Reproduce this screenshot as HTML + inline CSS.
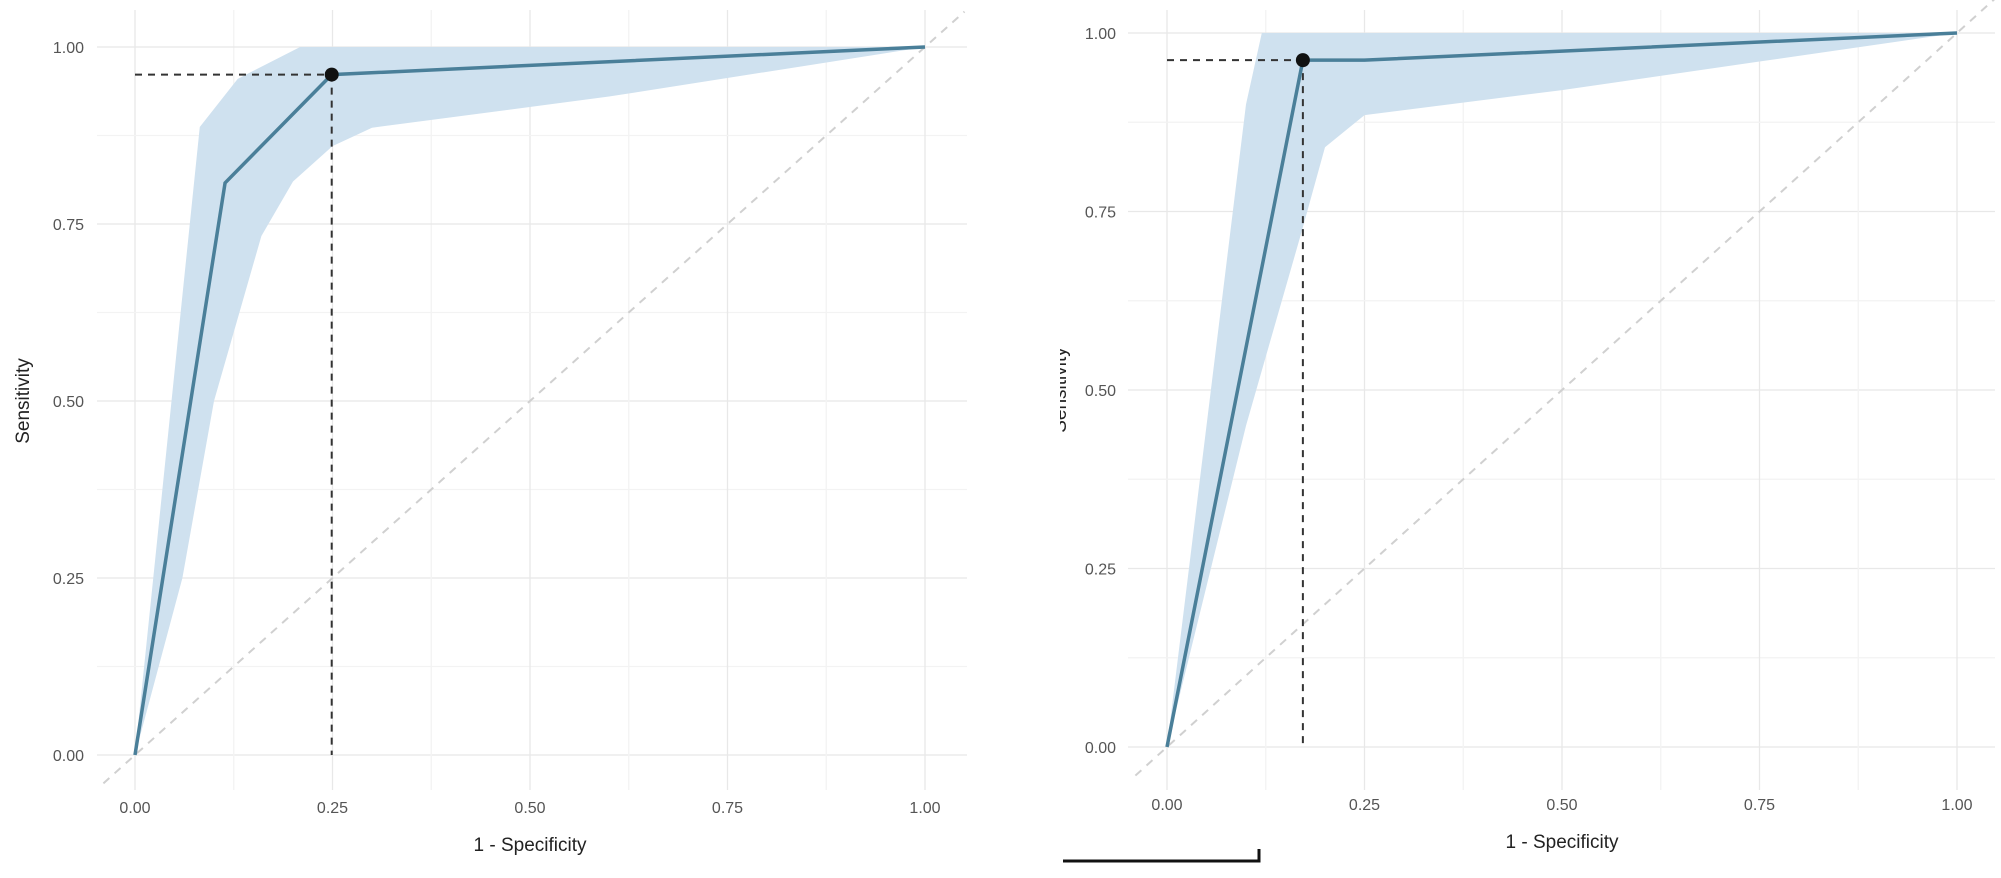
<!DOCTYPE html>
<html><head><meta charset="utf-8"><style>
body{margin:0;background:#fff}
svg{display:block;font-family:"Liberation Sans",sans-serif}
</style></head><body>
<svg id="s" width="2001" height="878"></svg>
<script>
// Left panel data
const leftRocX=[0,0.114,0.249,1];
const leftRocY=[0,0.808,0.961,1];
const leftUpX=[0,0.082,0.13,0.209,1];
const leftUpY=[0,0.887,0.955,1,1];
const leftLoX=[0,0.06,0.1,0.16,0.2,0.25,0.3,0.6,1];
const leftLoY=[0,0.25,0.5,0.733,0.81,0.86,0.886,0.93,1];
const leftCut=[0.249,0.961];
// Right panel data
const rightRocX=[0,0.172,0.25,1];
const rightRocY=[0,0.962,0.962,1];
const rightUpX=[0,0.1,0.12,1];
const rightUpY=[0,0.9,1,1];
const rightLoX=[0,0.1,0.17,0.2,0.25,0.5,0.75,1];
const rightLoY=[0,0.45,0.72,0.84,0.885,0.92,0.96,1];
const rightCut=[0.172,0.962];
const ticks=[0,0.25,0.5,0.75,1];
const tickLabels=["0.00","0.25","0.50","0.75","1.00"];

const S=document.getElementById('s');const NS='http://www.w3.org/2000/svg';
function mk(t,a,p){const e=document.createElementNS(NS,t);for(const k in a)e.setAttribute(k,a[k]);(p||S).appendChild(e);return e;}

function panel(cfg,rx,ry,ux,uy,lx,ly,cut,name){
  const g=mk('g',{});
  
  
  const X=v=>cfg.x0+v*cfg.w, Y=v=>cfg.y0-v*cfg.h;
  for(let i=0;i<=8;i++){const v=i/8;const c=i%2?'#f3f3f3':'#e8e8e8';
    const h=mk('line',{x1:cfg.gl,x2:cfg.gr,y1:Y(v),y2:Y(v),stroke:c,'stroke-width':1.3},g);
    
    const vl=mk('line',{x1:X(v),x2:X(v),y1:10,y2:cfg.gb,stroke:c,'stroke-width':1.3},g);
    }
  const d=mk('line',{x1:X(-0.04),y1:Y(-0.04),x2:X(1.05),y2:Y(1.05),stroke:'#d0d0d0','stroke-width':2,'stroke-dasharray':'8 7'},g);
  
  let p='';ux.forEach((v,i)=>p+=(i?'L':'M')+X(v)+','+Y(uy[i]));
  for(let i=lx.length-1;i>=0;i--)p+='L'+X(lx[i])+','+Y(ly[i]);
  const b=mk('path',{d:p+'Z',fill:'#cfe1ef'},g);
  
  const ch=mk('line',{x1:X(0),x2:X(cut[0]),y1:Y(cut[1]),y2:Y(cut[1]),stroke:'#333','stroke-width':2,'stroke-dasharray':'7 6'},g);
  
  const cv=mk('line',{x1:X(cut[0]),x2:X(cut[0]),y1:Y(cut[1]),y2:Y(0),stroke:'#333','stroke-width':2,'stroke-dasharray':'7 6'},g);
  
  const pts=rx.map((v,i)=>X(v)+','+Y(ry[i])).join(' ');
  const l=mk('polyline',{points:pts,fill:'none',stroke:'#4a7f99','stroke-width':3.5},g);
  
  const c=mk('circle',{cx:X(cut[0]),cy:Y(cut[1]),r:7,fill:'#111'},g);
  
  ticks.forEach((v,i)=>{
    const t=mk('text',{x:cfg.yl,y:Y(v)+6,'text-anchor':'end','font-size':16,fill:'#555'},g);t.textContent=tickLabels[i];
    
    const u=mk('text',{x:X(v),y:cfg.xl,'text-anchor':'middle','font-size':16,fill:'#555'},g);u.textContent=tickLabels[i];
    
  });
  const xt=mk('text',{x:X(0.5),y:cfg.xl+38,'text-anchor':'middle','font-size':19,fill:'#222'},g);xt.textContent='1 - Specificity';
  
  const yt=mk('text',{x:0,y:0,'text-anchor':'middle','font-size':19,fill:'#222',transform:`translate(${cfg.yt},${Y(0.5)}) rotate(-90)`},g);yt.textContent='Sensitivity';
  
}
panel({x0:135,w:790,y0:755,h:708,gl:97,gr:967,gb:790,yl:84,xl:813,yt:29},leftRocX,leftRocY,leftUpX,leftUpY,leftLoX,leftLoY,leftCut,'left-roc-panel');
panel({x0:1167,w:790,y0:747,h:714,gl:1128,gr:1995,gb:790,yl:1116,xl:810,yt:1066},rightRocX,rightRocY,rightUpX,rightUpY,rightLoX,rightLoY,rightCut,'right-roc-panel');
const cov=mk('rect',{x:1040,y:300,width:20,height:250,fill:'#fff'});

const br=mk('path',{d:'M1063,861 L1259,861 L1259,849',fill:'none',stroke:'#111','stroke-width':3});

</script>
</body></html>
